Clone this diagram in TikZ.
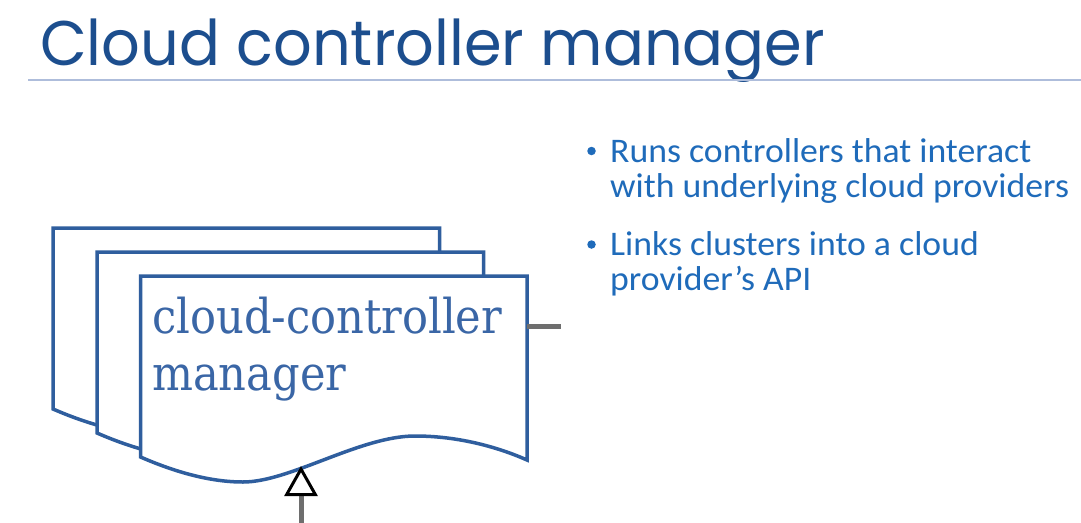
\documentclass[tikz,border=0pt]{standalone}
\usepackage{fontspec}
\setmainfont{Carlito}
\newfontfamily\titlefont{Poppins}
\newfontfamily\slabfont{DejaVu Serif Condensed}
\usetikzlibrary{arrows.meta}
\definecolor{titleblue}{HTML}{1C4E8E}
\definecolor{rulecol}{HTML}{AEBDDB}
\definecolor{bulletblue}{HTML}{1F6BBA}
\definecolor{docblue}{HTML}{2F5E9E}
\definecolor{doctext}{HTML}{3A66A6}
\definecolor{linkgray}{HTML}{6E6E6E}
\tikzset{
  docpath/.style={draw=docblue, line width=3.5pt, fill=white, line join=miter},
  linkline/.style={draw=linkgray, line width=5pt},
  bullettext/.style={anchor=base west, inner sep=0pt, text=bulletblue,
    font=\fontsize{34.5}{35}\selectfont, transform shape, xscale=1.035},
  bulletdot/.style={circle, fill=bulletblue, inner sep=0pt, minimum size=8.5pt},
  slabtext/.style={anchor=base west, inner sep=0pt, text=doctext,
    font=\slabfont\fontsize{48}{57}\selectfont},
}
% one stacked document outline, shifted by (#1,#2)
\newcommand\stackdoc[2]{%
  \path[docpath, shift={(#1,#2)}]
    (140.5,457) -- (140.5,276) -- (527,276) -- (527,460)
    .. controls (500,448) and (460,436) .. (415,436)
    .. controls (360,436) and (290,482) .. (243,482)
    .. controls (210,482) and (175,472) .. (140.5,457) -- cycle;}
\begin{document}
\begin{tikzpicture}[x=1pt, y=-1pt]
  \useasboundingbox (0,0) rectangle (1081,522);
  \fill[white] (0,0) rectangle (1081,522);

  % heading and rule
  \node[anchor=base west, inner sep=0pt, text=titleblue, transform shape, xscale=0.962,
        font=\titlefont\fontsize{63}{66}\selectfont] (title) at (40,65) {Cloud controller manager};
  \draw[rulecol, line width=1.6pt] (28,80) -- (1081,80);

  % stacked documents, back to front
  \stackdoc{-87.5}{-48}
  \stackdoc{-43.5}{-24}
  \stackdoc{0}{0}
  \node[slabtext] (ccm1) at (152,333) {cloud-controller};
  \node[slabtext] (ccm2) at (152,390) {manager};

  % connectors
  \coordinate (front-right) at (527,326);
  \coordinate (right-end) at (561,326);
  \draw[linkline] (front-right) -- (right-end);
  \coordinate (stem-foot) at (301,523);
  \coordinate (stem-tip) at (301,466);
  \draw[linkline, -{Triangle[open, width=33pt, length=30pt, line width=3pt, color=black, fill=white]}]
    (stem-foot) -- (stem-tip);

  % bullet list
  \node[bulletdot] (b1) at (591.5,151) {};
  \node[bullettext] (t1a) at (610,162) {Runs controllers that interact};
  \node[bullettext] (t1b) at (610,197.5) {with underlying cloud providers};
  \node[bulletdot] (b2) at (591.5,244.5) {};
  \node[bullettext] (t2a) at (610,255.5) {Links clusters into a cloud};
  \node[bullettext] (t2b) at (610,290) {provider’s API};
\end{tikzpicture}
\end{document}
